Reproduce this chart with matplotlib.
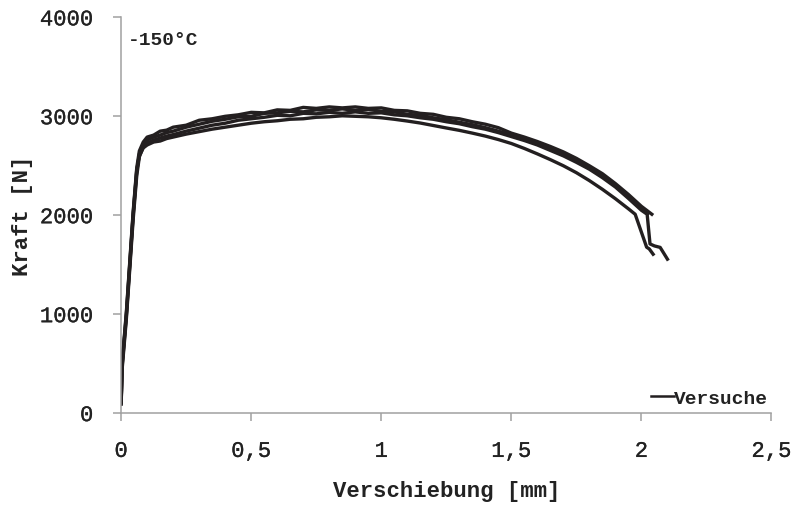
import matplotlib.pyplot as plt
import matplotlib.patheffects as pe
from matplotlib.lines import Line2D

# Werte (Verschiebung in mm, Kraft in N)
x_common = [0, 0.004, 0.02, 0.046, 0.06, 0.07, 0.085, 0.1, 0.125, 0.15, 0.175, 0.2,
            0.25, 0.3, 0.35, 0.4, 0.45, 0.5, 0.55, 0.6, 0.65, 0.7, 0.75, 0.8, 0.85,
            0.9, 0.95, 1.0, 1.05, 1.1, 1.15, 1.2, 1.25, 1.3, 1.35, 1.4, 1.45, 1.5,
            1.55, 1.6, 1.65, 1.7, 1.75, 1.8, 1.85, 1.9, 1.95]

x1 = x_common + [2.0, 2.04]
y1 = [120, 520, 1020, 2030, 2480, 2650, 2740, 2790, 2810, 2850, 2860, 2890,
      2910, 2960, 2975, 3000, 3015, 3040, 3035, 3065, 3060, 3090, 3080, 3095, 3085,
      3095, 3080, 3085, 3060, 3055, 3030, 3020, 2990, 2975, 2945, 2920, 2885, 2830,
      2790, 2745, 2695, 2640, 2575, 2500, 2420, 2320, 2210,
      2090, 2010]

x2 = x_common + [2.0, 2.025]
y2 = [100, 480, 980, 1990, 2440, 2620, 2710, 2760, 2790, 2810, 2835, 2850,
      2890, 2920, 2950, 2970, 2995, 3000, 3030, 3035, 3050, 3045, 3065, 3060, 3075,
      3060, 3070, 3050, 3045, 3020, 3010, 2985, 2965, 2940, 2915, 2885, 2850, 2810,
      2770, 2725, 2670, 2615, 2550, 2480, 2395, 2300, 2185,
      2070, 2020]

x3 = x_common + [2.0, 2.022, 2.033, 2.05, 2.072, 2.085, 2.1]
y3 = [90, 450, 950, 1950, 2400, 2590, 2690, 2730, 2760, 2780, 2800, 2815,
      2850, 2880, 2910, 2930, 2960, 2975, 2990, 3010, 3005, 3030, 3025, 3040, 3030,
      3045, 3030, 3035, 3015, 3005, 2985, 2970, 2945, 2925, 2895, 2870, 2835, 2795,
      2755, 2710, 2655, 2600, 2535, 2465, 2380, 2285, 2170,
      2050, 2010, 1710, 1690, 1675, 1620, 1556]

x4 = x_common + [1.976, 2.02, 2.03, 2.045]
y4 = [110, 500, 1000, 2010, 2460, 2600, 2680, 2710, 2740, 2750, 2775, 2790,
      2820, 2845, 2870, 2890, 2910, 2930, 2945, 2955, 2970, 2975, 2990, 2995, 3005,
      3000, 2995, 2985, 2970, 2952, 2932, 2907, 2882, 2858, 2830, 2800, 2765, 2725,
      2675, 2620, 2562, 2500, 2430, 2350, 2262, 2167, 2065,
      2010, 1677, 1660, 1606]

x_ticks = [0, 0.5, 1, 1.5, 2, 2.5]
x_ticklabels = ['0', '0,5', '1', '1,5', '2', '2,5']
y_ticks = [0, 1000, 2000, 3000, 4000]

plt.rcParams['font.family'] = ['Liberation Mono', 'DejaVu Sans Mono']

fig = plt.figure(figsize=(7.97, 5.10), dpi=100)
ax = fig.add_axes([0.152, 0.188, 0.816, 0.776])

line_color = '#231f20'
text_color = '#222222'
for xs, ys in [(x1, y1), (x2, y2), (x3, y3), (x4, y4)]:
    ax.plot(xs, ys, color=line_color, lw=2.4, solid_joinstyle='round')

ax.set_xlim(0, 2.5)
ax.set_ylim(0, 4000)
ax.set_xticks(x_ticks)
ax.set_xticklabels(x_ticklabels)
ax.set_yticks(y_ticks)

for side in ['top', 'right']:
    ax.spines[side].set_visible(False)
for side in ['left', 'bottom']:
    ax.spines[side].set_color('#a0a0a0')
    ax.spines[side].set_linewidth(1.1)
ax.tick_params(axis='both', direction='out', length=6, width=1.1, color='#a0a0a0',
               labelsize=16, pad=14, labelcolor=text_color)

# Ticklabels etwas kraeftiger, wie im Original
thick = [pe.withStroke(linewidth=0.2, foreground=text_color)]
for lab in ax.get_xticklabels() + ax.get_yticklabels():
    lab.set_path_effects(thick)

ax.set_xlabel('Verschiebung [mm]', fontsize=16, fontweight='bold', color=text_color)
ax.set_ylabel('Kraft [N]', fontsize=16, fontweight='bold', color=text_color)
ax.xaxis.set_label_coords(0.5, -0.168)
ax.yaxis.set_label_coords(-0.136, 0.5)

ax.text(0.01, 0.944, '-150°C', transform=ax.transAxes, fontsize=14,
        fontweight='bold', va='center', ha='left', color=text_color)

handle = Line2D([], [], color=line_color, lw=1.8)
leg = ax.legend([handle], ['Versuche'], loc='lower right', bbox_to_anchor=(1.007, -0.004),
                frameon=False, handlelength=1.2, handletextpad=0.0, borderaxespad=0,
                prop={'size': 14, 'weight': 'bold'})
for t in leg.get_texts():
    t.set_color(text_color)

fig.savefig('out.png', dpi=100)
